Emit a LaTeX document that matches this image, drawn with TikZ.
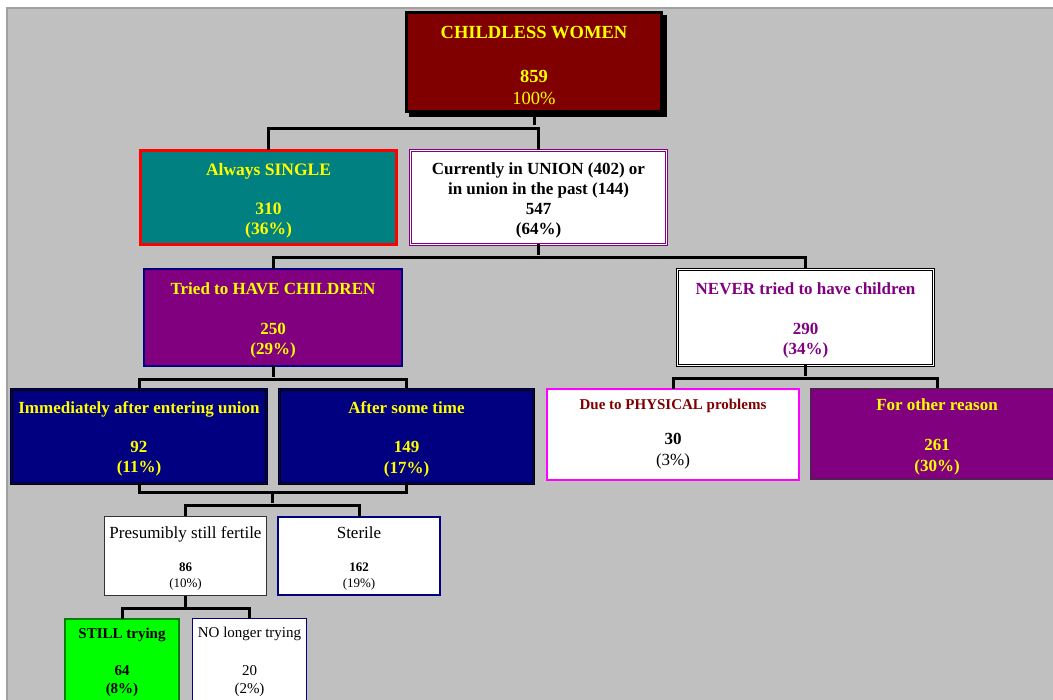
\documentclass[tikz,border=0pt]{standalone}
\usepackage{fontspec}
\setmainfont{Liberation Serif}
\usetikzlibrary{calc,shadows}
\definecolor{cwmaroon}{RGB}{128,0,0}
\definecolor{cwteal}{RGB}{0,128,128}
\definecolor{cwpurple}{RGB}{128,0,128}
\definecolor{cwnavy}{RGB}{0,0,128}
\definecolor{cwyellow}{RGB}{255,255,0}
\definecolor{cwgreen}{RGB}{0,255,0}
\definecolor{cwdkgreen}{RGB}{0,128,0}
\definecolor{cwmagenta}{RGB}{255,0,255}
\definecolor{cwgray}{RGB}{192,192,192}
\definecolor{cwedge}{RGB}{160,160,160}
\newcommand{\cwpush}[1]{\rule{0pt}{#1}}

\begin{document}
\begin{tikzpicture}[x=1pt,y=-1pt,
        box/.style={inner sep=0pt, outer sep=0pt, align=center, line width=1pt},
        conn/.style={draw=black, line width=3pt}]
    \useasboundingbox (0,0) rectangle (1053,700);
    \fill[white] (0,0) rectangle (1053,700);
    \fill[cwgray] (7,8) rectangle (1053,700);
    \draw[cwedge, line width=2pt] (7,701) -- (7,8) -- (1054,8);

    % level 0
    \node[box, fill=cwmaroon, draw=black, line width=3pt, minimum width=255pt, minimum height=99pt,
        text=cwyellow, font=\fontsize{18.5}{22}\selectfont\bfseries,
        copy shadow={shadow xshift=4pt, shadow yshift=-4pt, draw=black, fill=black}]
        (root) at (534,62) {\cwpush{18.5pt}CHILDLESS WOMEN\\[22pt]859\\{\mdseries 100\%}};

    % level 1
    \node[box, fill=cwteal, draw=red, line width=2.5pt, minimum width=256pt, minimum height=94pt,
        text=cwyellow, font=\fontsize{17.5}{20}\selectfont\bfseries]
        (single) at (268.5,197.5) {\cwpush{17.8pt}Always SINGLE\\[19pt]310\\(36\%)};
    \node[box, fill=white, draw=cwpurple, line width=1pt, double=white, double distance=1.2pt,
        minimum width=256pt, minimum height=94pt, font=\fontsize{17}{20}\selectfont\bfseries]
        (union) at (538.5,197.5) {\cwpush{17.8pt}Currently in UNION (402) or\\in union in the past (144)\\547\\(64\%)};

    % level 2
    \node[box, fill=cwpurple, draw=cwnavy, line width=2pt, minimum width=258pt, minimum height=97pt,
        text=cwyellow, font=\fontsize{17}{20.5}\selectfont\bfseries]
        (tried) at (273,317.5) {\cwpush{17.8pt}Tried to HAVE CHILDREN\\[19.5pt]250\\(29\%)};
    \node[box, fill=white, draw=black, line width=1pt, double=white, double distance=1.2pt,
        minimum width=256pt, minimum height=96pt, text=cwpurple, font=\fontsize{17}{20.5}\selectfont\bfseries]
        (never) at (805.5,317.5) {\cwpush{17.8pt}NEVER tried to have children\\[19.5pt]290\\(34\%)};

    % level 3
    \node[box, fill=cwnavy, draw=black, line width=1pt, double=cwnavy, double distance=1pt,
        minimum width=255pt, minimum height=94pt, text=cwyellow, font=\fontsize{17}{20.5}\selectfont\bfseries]
        (immed) at (139,436.5) {\cwpush{16.5pt}Immediately after entering union\\[18.5pt]92\\(11\%)};
    \node[box, fill=cwnavy, draw=black, line width=1pt, double=cwnavy, double distance=1pt,
        minimum width=254pt, minimum height=94pt, text=cwyellow, font=\fontsize{17}{20.5}\selectfont\bfseries]
        (after) at (406.5,436.5) {\cwpush{17.8pt}After some time\\[18.5pt]149\\(17\%)};
    \node[box, fill=white, draw=cwmagenta, line width=2pt, minimum width=252pt, minimum height=91pt,
        font=\fontsize{17}{21}\selectfont\bfseries]
        (physical) at (673,434.5) {{\fontsize{15}{18}\selectfont\color{cwmaroon}Due to PHYSICAL problems}\\[14pt]30\\{\mdseries (3\%)}};
    \node[box, fill=cwpurple, draw=black!80, line width=1pt, minimum width=253pt, minimum height=91pt,
        text=cwyellow, font=\fontsize{17}{20.5}\selectfont\bfseries]
        (other) at (937,434) {\cwpush{17.8pt}For other reason\\[19.5pt]261\\(30\%)};

    % level 4
    \node[box, fill=white, draw=black!80, line width=0.8pt, minimum width=162pt, minimum height=79pt,
        font=\fontsize{13}{16}\selectfont]
        (fertile) at (185.5,556) {{\fontsize{17}{20}\selectfont\cwpush{16.5pt}Presumibly still fertile}\\[17pt]\textbf{86}\\(10\%)};
    \node[box, fill=white, draw=cwnavy, line width=1.5pt, minimum width=162pt, minimum height=78pt,
        font=\fontsize{13}{16}\selectfont]
        (sterile) at (359,556) {{\fontsize{17}{20}\selectfont\cwpush{16.5pt}Sterile}\\[17pt]\textbf{162}\\(19\%)};

    % level 5
    \node[box, fill=cwgreen, draw=cwdkgreen, line width=2pt, minimum width=114pt, minimum height=83pt,
        font=\fontsize{15}{18}\selectfont\bfseries]
        (still) at (122,660.5) {\cwpush{14pt}STILL trying\\[19pt]64\\(8\%)};
    \node[box, fill=white, draw=cwnavy, line width=1.2pt, minimum width=114pt, minimum height=84pt,
        font=\fontsize{15}{18}\selectfont]
        (nolonger) at (249.5,660.5) {\cwpush{12.5pt}NO longer trying\\[20pt]20\\(2\%)};

    % connectors
    \draw[conn] (root.south) -- ++(0,14);
    \draw[conn] (single.north) -- ++(0,-22) -| (union.north);
    \draw[conn] (union.south) -- ++(0,11);
    \draw[conn] (tried.north) -- ++(0,-11) -| (never.north);
    \draw[conn] (tried.south) -- ++(0,11);
    \draw[conn] (immed.north) -- ++(0,-10) -| (after.north);
    \draw[conn] (never.south) -- ++(0,11);
    \draw[conn] (physical.north) -- ++(0,-10) -| (other.north);
    \draw[conn] (immed.south) -- ++(0,9) -| (after.south);
    \draw[conn] ($(immed.south)!.5!(after.south)$) ++(0,9) -- ++(0,11);
    \draw[conn] (fertile.north) -- ++(0,-11) -| (sterile.north);
    \draw[conn] (fertile.south) -- ++(0,11);
    \draw[conn] (still.north) -- ++(0,-11) -| (nolonger.north);
\end{tikzpicture}
\end{document}
